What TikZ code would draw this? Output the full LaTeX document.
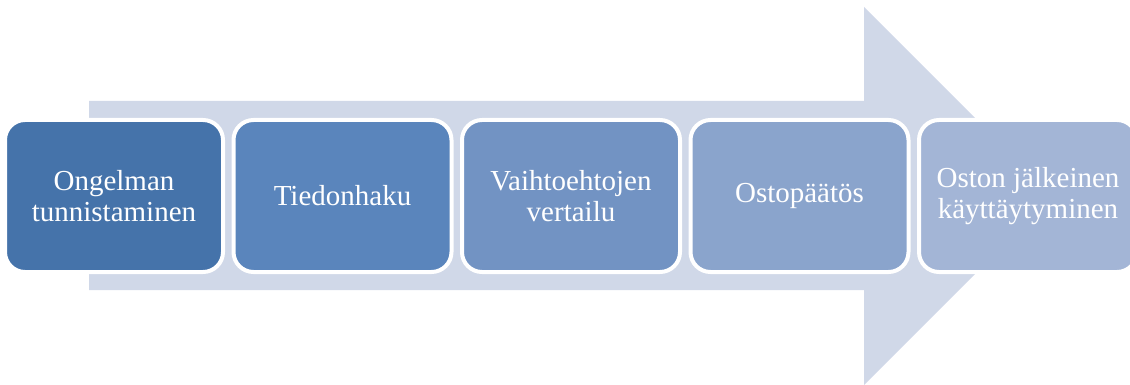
\documentclass[tikz,border=0pt]{standalone}
\usepackage{fontspec}
\setmainfont{Liberation Serif}
\usepackage{xcolor}
\usetikzlibrary{positioning}

\definecolor{taustasin}{HTML}{D0D8E8}
\definecolor{vaihe1}{HTML}{4573AA}
\definecolor{vaihe2}{HTML}{5A85BC}
\definecolor{vaihe3}{HTML}{7293C3}
\definecolor{vaihe4}{HTML}{8AA4CC}
\definecolor{vaihe5}{HTML}{A3B5D6}

\begin{document}
\begin{tikzpicture}[
      x=1pt, y=-1pt,
      node distance=10.5pt,
      vaihe/.style={draw=white, line width=4pt, rounded corners=20pt, outer sep=0pt,
        align=center, minimum width=218pt, minimum height=152pt, text=white,
        font=\fontsize{29}{31}\selectfont},
      taustanuoli/.style={fill=taustasin, draw=none}
    ]
      \useasboundingbox (0,0) rectangle (1130,385);
      \clip (0,0) rectangle (1130,385);

      % iso taustanuoli
      \fill[taustanuoli] (89,101) -- (864,101) -- (864,7) -- (1053,196)
        -- (864,385) -- (864,290) -- (89,290) -- cycle;

      \node[vaihe, fill=vaihe1] (ongelma) at (114,196) {Ongelman\\tunnistaminen};
      \node[vaihe, fill=vaihe2, right=of ongelma] (tiedonhaku) {Tiedonhaku};
      \node[vaihe, fill=vaihe3, right=of tiedonhaku] (vertailu) {Vaihtoehtojen\\vertailu};
      \node[vaihe, fill=vaihe4, right=of vertailu] (paatos) {Ostopäätös};
      \node[vaihe, fill=vaihe5, right=of paatos] (jalkeen) {Oston jälkeinen\\käyttäytyminen};
    \end{tikzpicture}
\end{document}
